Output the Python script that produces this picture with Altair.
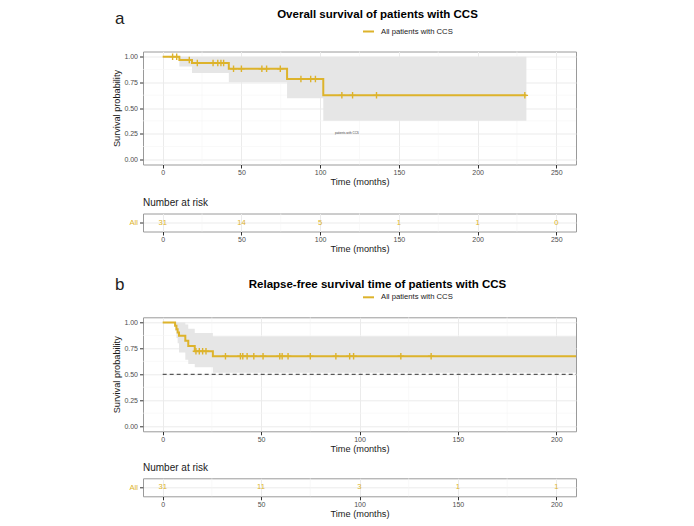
import altair as alt
import pandas as pd

GOLD = "#DDB32B"
GRID = "#EBEBEB"
MINOR = "#F5F5F5"
BORDER = "#9A9A9A"
RIBBON = "#E6E6E6"
FONT = "Liberation Sans"

# ---------------- Panel a: overall survival ----------------
os_time = [0, 10.6, 18.6, 42.0, 79.0, 102.0, 231.0]
os_surv = [1.0, 0.968, 0.937, 0.882, 0.783, 0.623, 0.623]
os_lower = [1.0, 0.904, 0.840, 0.750, 0.594, 0.377, 0.377]
os_upper = [1.0, 1.0, 1.0, 1.0, 1.0, 1.0, 1.0]
os_censor = [6.3, 8.9, 16.9, 22.0, 32.0, 35.0, 37.0, 38.7, 45.0, 50.0,
             63.0, 66.0, 74.7, 87.8, 94.0, 97.0, 113.8, 120.6, 135.8, 230.0]
os_risk_time = [0, 50, 100, 150, 200, 250]
os_risk_n = [31, 14, 5, 1, 1, 0]
os_xticks = [0, 50, 100, 150, 200, 250]
os_xminor = [25, 75, 125, 175, 225]

# ---------------- Panel b: relapse-free survival ----------------
rfs_time = [0, 6.3, 7.0, 7.6, 8.3, 11.5, 13.0, 16.3, 25.5, 231.0]
rfs_surv = [1.0, 0.968, 0.935, 0.903, 0.871, 0.823, 0.774, 0.722, 0.674, 0.674]
rfs_lower = [1.0, 0.920, 0.850, 0.800, 0.710, 0.640, 0.600, 0.569, 0.515, 0.515]
rfs_upper = [1.0, 1.0, 1.0, 1.0, 1.0, 0.980, 0.940, 0.898, 0.866, 0.866]
rfs_censor = [16.9, 18.6, 20.3, 22.0, 31.9, 39.5, 40.7, 42.9, 46.3, 51.0,
              59.5, 60.7, 63.7, 75.0, 88.0, 95.0, 97.0, 121.0, 136.4]
rfs_risk_time = [0, 50, 100, 150, 200]
rfs_risk_n = [31, 11, 3, 1, 1]
rfs_xticks = [0, 50, 100, 150, 200]
rfs_xminor = [25, 75, 125, 175]

y_ticks = [0.0, 0.25, 0.50, 0.75, 1.0]
y_minor = [0.125, 0.375, 0.625, 0.875]

PW = 433


def step_value(times, values, t):
    v = values[0]
    for tt, vv in zip(times, values):
        if tt <= t:
            v = vv
    return v


def km_panel(times, surv, lower, upper, censor, xmax, xticks, xminor,
             title, letter, title_y, median=False, note=None, height=113):
    xs = alt.Scale(domain=[-0.05 * xmax, 1.05 * xmax], nice=False, zero=False)
    ys = alt.Scale(domain=[-0.05, 1.05], nice=False, zero=False)
    xaxis = alt.Axis(values=xticks, title="Time (months)", grid=True, format="d",
                     labelPadding=0.5, titlePadding=2)
    yaxis = alt.Axis(values=y_ticks, format=".2f", title="Survival probability",
                     grid=True, labelPadding=2, titlePadding=2)
    curve = pd.DataFrame({"time": times, "surv": surv, "lower": lower, "upper": upper})
    cens = pd.DataFrame({"time": censor,
                         "surv": [step_value(times, surv, t) for t in censor]})

    minor_x = alt.Chart(pd.DataFrame({"v": xminor})).mark_rule(
        color=MINOR, strokeWidth=0.6).encode(x=alt.X("v:Q", scale=xs, axis=xaxis))
    minor_y = alt.Chart(pd.DataFrame({"v": y_minor})).mark_rule(
        color=MINOR, strokeWidth=0.6).encode(y=alt.Y("v:Q", scale=ys, axis=yaxis))
    band = alt.Chart(curve).mark_area(interpolate="step-after", color=RIBBON,
                                      opacity=1, clip=True).encode(
        x=alt.X("time:Q", scale=xs, axis=xaxis),
        y=alt.Y("lower:Q", scale=ys, axis=yaxis),
        y2="upper:Q")
    line = alt.Chart(curve).mark_line(interpolate="step-after", color=GOLD,
                                      strokeWidth=2, clip=True).encode(
        x=alt.X("time:Q", scale=xs, axis=xaxis),
        y=alt.Y("surv:Q", scale=ys, axis=yaxis))
    marks = alt.Chart(cens).mark_point(shape="M-1,0L1,0M0,-1L0,1", filled=False,
                                       size=42, strokeWidth=1.4, color=GOLD,
                                       opacity=1).encode(
        x=alt.X("time:Q", scale=xs, axis=xaxis),
        y=alt.Y("surv:Q", scale=ys, axis=yaxis))
    layers = [minor_x, minor_y, band]
    if median:
        med = alt.Chart(pd.DataFrame({"x": [0], "x2": [1.05 * xmax], "y": [0.5]})).mark_rule(
            color="#333333", strokeWidth=1, strokeDash=[4, 3]).encode(
            x=alt.X("x:Q", scale=xs, axis=xaxis), x2="x2:Q",
            y=alt.Y("y:Q", scale=ys, axis=yaxis))
        layers.append(med)
    layers += [line, marks]
    if note is not None:
        nt = alt.Chart(pd.DataFrame({"x": [note[0]], "y": [note[1]], "t": [note[2]]})).mark_text(
            fontSize=3, color="#444444").encode(
            x=alt.X("x:Q", scale=xs, axis=xaxis), y=alt.Y("y:Q", scale=ys, axis=yaxis),
            text="t:N")
        layers.append(nt)
    one = pd.DataFrame({"t": [title], "l": [letter], "g": ["All patients with CCS"]})
    ttl = alt.Chart(one).mark_text(align="center", baseline="alphabetic", fontSize=11.5,
                                   fontWeight="bold", color="#000000").encode(
        x=alt.value(234.5), y=alt.value(title_y), text="t:N")
    let = alt.Chart(one).mark_text(align="left", baseline="alphabetic", fontSize=17,
                                   color="#222222").encode(
        x=alt.value(-28), y=alt.value(-27.7), text="l:N")
    leg_line = alt.Chart(one).mark_rule(color=GOLD, strokeWidth=2).encode(
        x=alt.value(220), x2=alt.value(231), y=alt.value(-20))
    leg_txt = alt.Chart(one).mark_text(align="left", baseline="middle", fontSize=7.7,
                                       color="#1A1A1A").encode(
        x=alt.value(238), y=alt.value(-20), text="g:N")
    layers += [ttl, let, leg_line, leg_txt]
    return alt.layer(*layers).properties(width=PW, height=height)


def risk_panel(times, counts, xmax, xticks, xminor):
    xs = alt.Scale(domain=[-0.05 * xmax, 1.05 * xmax], nice=False, zero=False)
    xaxis = alt.Axis(values=xticks, title="Time (months)", grid=True, format="d",
                     labelPadding=0.5, titlePadding=2)
    df = pd.DataFrame({"time": times, "n": [str(c) for c in counts],
                       "g": ["All"] * len(times)})
    minor_x = alt.Chart(pd.DataFrame({"v": xminor})).mark_rule(
        color=MINOR, strokeWidth=0.6).encode(x=alt.X("v:Q", scale=xs, axis=xaxis))
    txt = alt.Chart(df).mark_text(color=GOLD, fontSize=7.7).encode(
        x=alt.X("time:Q", scale=xs, axis=xaxis),
        y=alt.Y("g:N", axis=alt.Axis(title=None, labelColor=GOLD, grid=True,
                                     labelFontSize=7.7, labelPadding=2)),
        text="n:N")
    return alt.layer(minor_x, txt).properties(
        width=PW, height=18,
        title=alt.TitleParams("Number at risk", anchor="start", fontSize=10,
                              fontWeight="normal", color="#1A1A1A", frame="group",
                              offset=5))


km_a = km_panel(os_time, os_surv, os_lower, os_upper, os_censor, 250, os_xticks,
                os_xminor, "Overall survival of patients with CCS", "a", -33.4,
                note=(117, 0.26, "patients with CCS"), height=113)
risk_a = risk_panel(os_risk_time, os_risk_n, 250, os_xticks, os_xminor)
km_b = km_panel(rfs_time, rfs_surv, rfs_lower, rfs_upper, rfs_censor, 200, rfs_xticks,
                rfs_xminor, "Relapse-free survival time of patients with CCS", "b", -29,
                median=True, height=114)
risk_b = risk_panel(rfs_risk_time, rfs_risk_n, 200, rfs_xticks, rfs_xminor)

top = alt.vconcat(km_a, risk_a, spacing=10)
bot = alt.vconcat(km_b, risk_b, spacing=8)

chart = alt.vconcat(top, bot, spacing=19.8).properties(
    padding={"left": 104, "top": 0.5, "right": 0, "bottom": 0}
).configure(font=FONT).configure_view(
    stroke=BORDER, strokeWidth=1
).configure_axis(
    labelFontSize=7, labelColor="#4D4D4D", tickColor="#333333", tickSize=3.5,
    domain=False, gridColor=GRID, gridWidth=1, titleFontSize=9.2,
    titleFontWeight="normal", titleColor="#1A1A1A"
)

chart.save("out.html", embed_options={"renderer": "svg", "actions": False})
